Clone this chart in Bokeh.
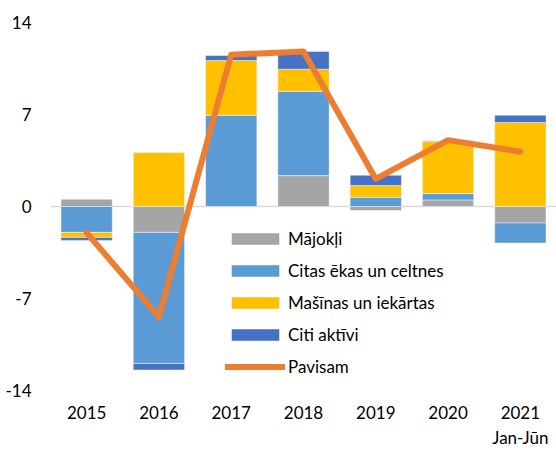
import numpy as np
from bokeh.plotting import figure
from bokeh.models import ColumnDataSource, FactorRange, Range1d, FixedTicker, Legend, LegendItem
from bokeh.embed import file_html
from bokeh.resources import INLINE

years = ["2015", "2016", "2017", "2018", "2019", "2020", "2021\nJan-Jūn"]
majokli = [0.55, -1.97, 0.0, 2.35, -0.30, 0.50, -1.26]
citas_ekas = [-1.97, -9.97, 6.94, 6.42, 0.70, 0.48, -1.52]
masinas = [-0.38, 4.10, 4.17, 1.68, 0.90, 3.98, 6.39]
citi_aktivi = [-0.23, -0.50, 0.38, 1.35, 0.78, 0.05, 0.55]
pavisam = [-2.0, -8.4, 11.55, 11.8, 2.1, 5.05, 4.17]
y_ticks = [-14, -7, 0, 7, 14]

names = ["Mājokļi", "Citas ēkas un celtnes", "Mašīnas un iekārtas", "Citi aktīvi"]
colors = ["#A5A5A5", "#5B9BD5", "#FFC000", "#4472C4"]
series = [majokli, citas_ekas, masinas, citi_aktivi]

FONT = "Lato"

p = figure(width=556, height=450, x_range=FactorRange(*years), y_range=Range1d(-14, 14),
           output_backend="svg", toolbar_location=None,
           min_border_left=50, min_border_right=0, min_border_top=22, min_border_bottom=45)
p.outline_line_color = None
p.background_fill_color = "white"
p.border_fill_color = "white"

pos = np.zeros(len(years))
neg = np.zeros(len(years))
items = []
for name, vals, color in zip(names, series, colors):
    v = np.array(vals, dtype=float)
    bottom = np.where(v >= 0, pos, neg)
    top = bottom + v
    pos = np.where(v >= 0, top, pos)
    neg = np.where(v < 0, top, neg)
    src = ColumnDataSource(dict(x=years, bottom=bottom, top=top))
    r = p.vbar(x="x", bottom="bottom", top="top", width=0.71, source=src,
               fill_color=color, line_color="white", line_width=1, line_alpha=0.45)
    items.append(LegendItem(label=name, renderers=[r]))

lr = p.line(x=years, y=pavisam, line_color="#ED7D31", line_width=6,
            line_cap="round", line_join="round")
items.append(LegendItem(label="Pavisam", renderers=[lr]))

legend = Legend(items=items, location=(175, 13), glyph_width=60, glyph_height=15,
                label_standoff=3, label_height=20, spacing=11, padding=0, margin=0,
                border_line_color=None, background_fill_alpha=0,
                label_text_font=FONT, label_text_font_size="17px", label_text_color="black")
p.add_layout(legend, "center")

p.xgrid.grid_line_color = None
p.ygrid.ticker = FixedTicker(ticks=[0])
p.ygrid.grid_line_color = "#D9D9D9"
p.ygrid.grid_line_width = 1.5

p.yaxis.ticker = FixedTicker(ticks=y_ticks)
p.yaxis.major_label_overrides = {t: str(t) for t in y_ticks}
for ax in (p.xaxis[0], p.yaxis[0]):
    ax.axis_line_color = None
    ax.major_tick_line_color = None
    ax.minor_tick_line_color = None
    ax.major_tick_in = 0
    ax.major_tick_out = 0
    ax.major_label_text_font = FONT
    ax.major_label_text_font_size = "17px"
    ax.major_label_text_color = "black"
p.yaxis.major_label_standoff = 19
p.xaxis.major_label_standoff = 11

open("out.html", "w").write(file_html(p, INLINE))
